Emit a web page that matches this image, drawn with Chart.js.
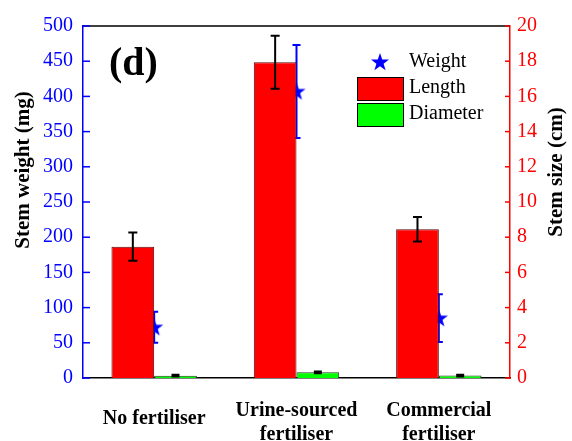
<!DOCTYPE html>
<html>
<head>
<meta charset="utf-8">
<script src="https://cdn.jsdelivr.net/npm/chart.js@4.4.1/dist/chart.umd.min.js"></script>
<style>
  html, body { margin: 0; padding: 0; background: #fff; }
  #wrap { width: 572px; height: 441px; }
</style>
</head>
<body>
<div id="wrap"><canvas id="chart" width="572" height="441"></canvas></div>
<script>
// Dades llegides del gràfic
const categories = [['No fertiliser'], ['Urine-sourced', 'fertiliser'], ['Commercial', 'fertiliser']];
const weight = [72, 407, 85];          // mg (eix esquerre)
const weightErr = [22, 66, 34];
const lengthCm = [7.46, 17.94, 8.45];  // cm (eix dret)
const lengthErr = [0.8, 1.5, 0.7];
const diameterCm = [0.13, 0.32, 0.14];
const diameterErr = [0.05, 0.05, 0.05];
const seriesNames = ['Weight', 'Length', 'Diameter'];

const SERIF = "'Liberation Serif', 'Times New Roman', serif";
const BLUE = '#0000ff';
const RED = '#ff0000';
const GREEN = '#00ff00';

Chart.defaults.font.family = SERIF;

// estrella plena per als punts de pes
function starPath(ctx, cx, cy, rOut, rIn) {
    ctx.beginPath();
    for (let i = 0; i < 10; i++) {
        const r = i % 2 === 0 ? rOut : rIn;
        const a = -Math.PI / 2 + i * Math.PI / 5;
        const x = cx + r * Math.cos(a);
        const y = cy + r * Math.sin(a);
        if (i === 0) ctx.moveTo(x, y); else ctx.lineTo(x, y);
    }
    ctx.closePath();
}
const starImg = document.createElement('canvas');
starImg.width = 20;
starImg.height = 20;
(function () {
    const c = starImg.getContext('2d');
    c.fillStyle = BLUE;
    starPath(c, 10, 10.5, 9.5, 3.8);
    c.fill();
})();

// barres d'error
function drawErrors(chart, dsIndex, errs, scaleId, color, half) {
    const meta = chart.getDatasetMeta(dsIndex);
    const scale = chart.scales[scaleId];
    const vals = chart.data.datasets[dsIndex].data;
    const ctx = chart.ctx;
    ctx.save();
    ctx.strokeStyle = color;
    ctx.lineWidth = 2;
    meta.data.forEach((el, i) => {
        const x = el.x;
        const yTop = scale.getPixelForValue(vals[i] + errs[i]);
        const yBot = scale.getPixelForValue(vals[i] - errs[i]);
        ctx.beginPath();
        ctx.moveTo(x, yTop); ctx.lineTo(x, yBot);
        ctx.moveTo(x - half, yTop); ctx.lineTo(x + half, yTop);
        ctx.moveTo(x - half, yBot); ctx.lineTo(x + half, yBot);
        ctx.stroke();
    });
    ctx.restore();
}

const decorPlugin = {
    id: 'decor',
    beforeDatasetsDraw(chart) {
        drawErrors(chart, 0, weightErr, 'yW', BLUE, 4);
    },
    afterDatasetsDraw(chart) {
        drawErrors(chart, 1, lengthErr, 'yS', '#000', 4.5);
        drawErrors(chart, 2, diameterErr, 'yS', '#000', 4);
    },
    afterDraw(chart) {
        const ctx = chart.ctx;
        const a = chart.chartArea;
        ctx.save();
        // marc superior
        ctx.strokeStyle = '#000';
        ctx.lineWidth = 1.5;
        ctx.beginPath();
        ctx.moveTo(a.left, a.top); ctx.lineTo(a.right, a.top);
        ctx.stroke();
        // ticks cap a dins
        ctx.strokeStyle = BLUE;
        chart.scales.yW.ticks.forEach(t => {
            const y = chart.scales.yW.getPixelForValue(t.value);
            ctx.beginPath(); ctx.moveTo(a.left, y); ctx.lineTo(a.left + 7, y); ctx.stroke();
        });
        ctx.strokeStyle = RED;
        chart.scales.yS.ticks.forEach(t => {
            const y = chart.scales.yS.getPixelForValue(t.value);
            ctx.beginPath(); ctx.moveTo(a.right, y); ctx.lineTo(a.right - 5, y); ctx.stroke();
        });

        // títols dels eixos
        ctx.fillStyle = '#000';
        ctx.font = 'bold 21px ' + SERIF;
        ctx.textAlign = 'center';
        ctx.textBaseline = 'middle';
        ctx.save();
        ctx.translate(24, 170); ctx.rotate(-Math.PI / 2);
        ctx.fillText('Stem weight (mg)', 0, 0);
        ctx.restore();
        ctx.save();
        ctx.translate(557, 172); ctx.rotate(-Math.PI / 2);
        ctx.fillText('Stem size (cm)', 0, 0);
        ctx.restore();

        // etiqueta del panell
        ctx.font = 'bold 40px ' + SERIF;
        ctx.textAlign = 'left';
        ctx.textBaseline = 'alphabetic';
        ctx.fillText('(d)', 109, 75);

        // llegenda
        ctx.drawImage(starImg, 370, 52);
        ctx.lineWidth = 1;
        ctx.strokeStyle = '#000';
        ctx.fillStyle = RED;
        ctx.fillRect(357, 77, 46, 23);
        ctx.strokeRect(357.5, 77.5, 46, 23);
        ctx.fillStyle = GREEN;
        ctx.fillRect(357, 103, 46, 23);
        ctx.strokeRect(357.5, 103.5, 46, 23);
        ctx.fillStyle = '#000';
        ctx.font = '20px ' + SERIF;
        ctx.textBaseline = 'middle';
        ctx.fillText(seriesNames[0], 409, 62);
        ctx.fillText(seriesNames[1], 409, 88);
        ctx.fillText(seriesNames[2], 409, 114);
        ctx.restore();
    }
};

new Chart(document.getElementById('chart'), {
    type: 'bar',
    data: {
        labels: categories,
        datasets: [
            {
                type: 'line',
                label: seriesNames[0],
                data: weight,
                yAxisID: 'yW',
                showLine: false,
                pointStyle: starImg,
                order: 3
            },
            {
                label: seriesNames[1],
                data: lengthCm,
                yAxisID: 'yS',
                backgroundColor: RED,
                borderColor: '#5a0a0a',
                borderWidth: 1,
                categoryPercentage: 0.6,
                barPercentage: 1,
                order: 1
            },
            {
                label: seriesNames[2],
                data: diameterCm,
                yAxisID: 'yS',
                backgroundColor: GREEN,
                borderColor: '#1d3d1d',
                borderWidth: 1,
                categoryPercentage: 0.6,
                barPercentage: 1,
                order: 1
            }
        ]
    },
    options: {
        responsive: false,
        animation: false,
        devicePixelRatio: 1,
        layout: { padding: { top: 26, left: 0, right: 0, bottom: 0 } },
        plugins: { legend: { display: false }, tooltip: { enabled: false } },
        scales: {
            x: {
                grid: { display: false, drawTicks: false },
                border: { color: '#000', width: 1.5 },
                ticks: {
                    color: '#000',
                    padding: 21,
                    maxRotation: 0,
                    font: ctx => ({ family: SERIF, size: 20, weight: 'bold', lineHeight: ctx.index === 0 ? 2.0 : 1.2 })
                },
                afterFit: s => { s.height = 63; }
            },
            yW: {
                position: 'left',
                min: 0, max: 500,
                grid: { display: false, drawTicks: false },
                border: { color: BLUE, width: 1.5 },
                ticks: { stepSize: 50, color: BLUE, padding: 10, font: { family: SERIF, size: 20 } },
                afterFit: s => { s.width = 83; }
            },
            yS: {
                position: 'right',
                min: 0, max: 20,
                grid: { display: false, drawTicks: false },
                border: { color: RED, width: 1.5 },
                ticks: { stepSize: 2, color: RED, padding: 7, font: { family: SERIF, size: 20 } },
                afterFit: s => { s.width = 62; }
            }
        }
    },
    plugins: [decorPlugin]
});
</script>
</body>
</html>
